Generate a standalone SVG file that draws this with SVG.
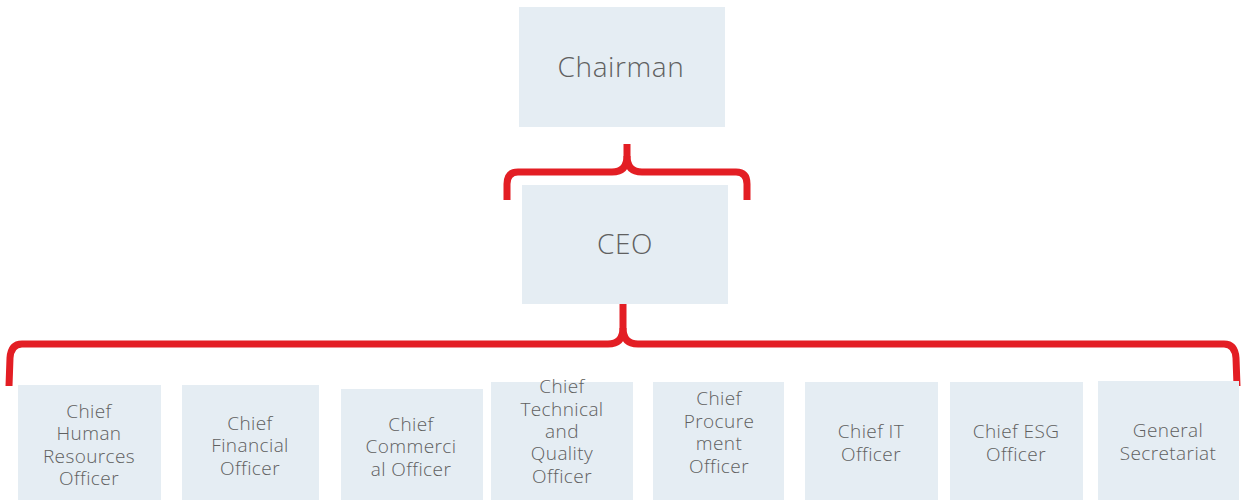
<svg xmlns="http://www.w3.org/2000/svg" width="1247" height="500" viewBox="0 0 1247 500">
<style>
.box{fill:#e5edf3}
.t{font-family:"Open Sans","Liberation Sans",sans-serif;fill:#606060;text-anchor:middle;font-weight:300}
.s{font-size:19px;letter-spacing:0.4px}
.b{font-size:28px;letter-spacing:0.6px}
.br{fill:none;stroke:#e31e24;stroke-width:7;stroke-linecap:butt;stroke-linejoin:round}
</style>
<rect width="1247" height="500" fill="#ffffff"/>
<g id="connectors">
<path class="br" d="M627,144 V156 Q627,172 612,172 H518 Q507,172 507,184 V200"/>
<path class="br" d="M627,156 Q627,172 642,172 H736 Q747,172 747,184 V200"/>
<path class="br" d="M623,303 V328 Q623,344 608,344 H22 Q11,344 10,358 L9,386"/>
<path class="br" d="M623,328 Q623,344 638,344 H1224 Q1235,344 1236,358 L1237,386"/>
</g>
<g id="chairman">
<rect class="box" x="519" y="7" width="206" height="120"/>
<text class="t b" x="621" y="77">Chairman</text>
</g>
<g id="ceo">
<rect class="box" x="522" y="185" width="206" height="119"/>
<text class="t b" x="625" y="254">CEO</text>
</g>
<g id="chro">
<rect class="box" x="18" y="385" width="143" height="115"/>
<text class="t s" x="89"><tspan x="89" y="418">Chief</tspan><tspan x="89" y="440">Human</tspan><tspan x="89" y="463">Resources</tspan><tspan x="89" y="485">Officer</tspan></text>
</g>
<g id="cfo">
<rect class="box" x="182" y="385" width="137" height="115"/>
<text class="t s" x="250"><tspan x="250" y="430">Chief</tspan><tspan x="250" y="452">Financial</tspan><tspan x="250" y="475">Officer</tspan></text>
</g>
<g id="cco">
<rect class="box" x="341" y="389" width="142" height="111"/>
<text class="t s" x="411"><tspan x="411" y="431">Chief</tspan><tspan x="411" y="453">Commerci</tspan><tspan x="411" y="476">al Officer</tspan></text>
</g>
<g id="ctqo">
<rect class="box" x="491" y="382" width="142" height="118"/>
<text class="t s" x="562"><tspan x="562" y="393">Chief</tspan><tspan x="562" y="416">Technical</tspan><tspan x="562" y="438">and</tspan><tspan x="562" y="460">Quality</tspan><tspan x="562" y="483">Officer</tspan></text>
</g>
<g id="cpo">
<rect class="box" x="653" y="382" width="131" height="118"/>
<text class="t s" x="719"><tspan x="719" y="405">Chief</tspan><tspan x="719" y="428">Procure</tspan><tspan x="719" y="450">ment</tspan><tspan x="719" y="473">Officer</tspan></text>
</g>
<g id="cito">
<rect class="box" x="805" y="382" width="133" height="118"/>
<text class="t s" x="871"><tspan x="871" y="438">Chief IT</tspan><tspan x="871" y="461">Officer</tspan></text>
</g>
<g id="cesgo">
<rect class="box" x="950" y="382" width="133" height="118"/>
<text class="t s" x="1016"><tspan x="1016" y="438">Chief ESG</tspan><tspan x="1016" y="461">Officer</tspan></text>
</g>
<g id="gs">
<rect class="box" x="1098" y="381" width="141" height="119"/>
<text class="t s" x="1168"><tspan x="1168" y="437">General</tspan><tspan x="1168" y="460">Secretariat</tspan></text>
</g>
</svg>
